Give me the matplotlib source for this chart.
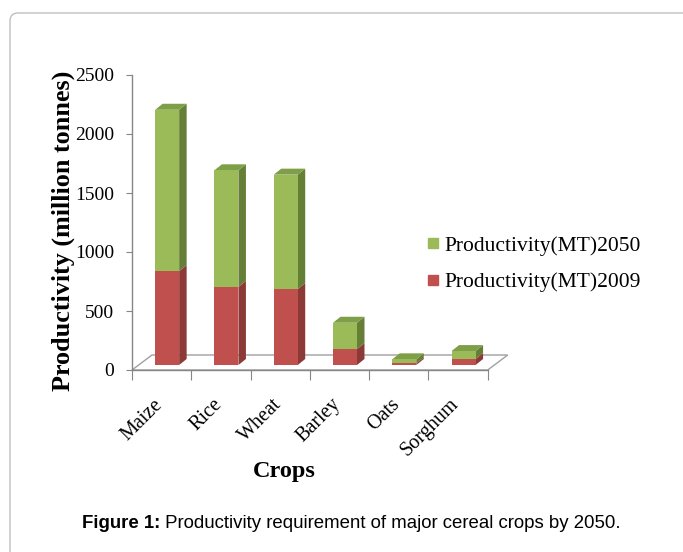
import matplotlib
matplotlib.use("Agg")
import matplotlib.pyplot as plt
import numpy as np
from matplotlib.patches import Polygon, FancyBboxPatch
from matplotlib.lines import Line2D
from matplotlib.transforms import IdentityTransform, ScaledTranslation

crops = ["Maize", "Rice", "Wheat", "Barley", "Oats", "Sorghum"]
prod_2009 = [795, 662, 643, 135, 14, 51]
prod_2050 = [1368, 988, 970, 223, 34, 67]
series_labels = ["Productivity(MT)2050", "Productivity(MT)2009"]
y_ticks = [0, 500, 1000, 1500, 2000, 2500]

W, H = 683, 552
fig = plt.figure(figsize=(W / 100, H / 100), dpi=100)

# axes placement in pixels (top-origin)
ax_l, ax_r, ax_y0, ax_ytop = 132, 487.7, 370, 75
ax = fig.add_axes([ax_l / W, (H - ax_y0) / H, (ax_r - ax_l) / W, (ax_y0 - ax_ytop) / H])
n = len(crops)
ax.set_xlim(-0.5, n - 0.5)
ax.set_ylim(0, 2500)

px_per_cat = (ax_r - ax_l) / n
px_per_val = (ax_y0 - ax_ytop) / 2500.0


def dxc(px):
    return px / px_per_cat


def dyv(px):
    return px / px_per_val


# floor
floor_dx, floor_dy = 20, 15
floor = Polygon([(-0.5, 0), (n - 0.5, 0), (n - 0.5 + dxc(floor_dx), dyv(floor_dy)),
                 (-0.5 + dxc(floor_dx), dyv(floor_dy))], closed=True,
                facecolor="white", edgecolor="#A0A0A0", linewidth=1.0, clip_on=False, zorder=1)
ax.add_patch(floor)

x = np.arange(n)
bw = 0.405
ox, oy = dxc(5.5), dyv(5)
ddx, ddy = dxc(7.5), dyv(6)

colors = {
    "red": ("#C0504D", "#8C3A37", "#A34440"),
    "green": ("#9BBB59", "#667F36", "#7F9E48"),
}

b09 = np.array(prod_2009, float)
b50 = np.array(prod_2050, float)

segments = [(np.zeros(n), b09, "red", False), (b09, b09 + b50, "green", True)]
for bottoms, tops, cname, top_face in segments:
    front, side, topc = colors[cname]
    ax.bar(x + ox, tops - bottoms, bottom=bottoms + oy, width=bw, color=front,
           edgecolor="none", zorder=3, clip_on=False)
    for i in range(n):
        xr = x[i] + ox + bw / 2
        xl = x[i] + ox - bw / 2
        b, t = bottoms[i] + oy, tops[i] + oy
        ax.add_patch(Polygon([(xr, b), (xr + ddx, b + ddy), (xr + ddx, t + ddy), (xr, t)],
                             closed=True, facecolor=side, edgecolor="none", zorder=2.5, clip_on=False))
        if top_face:
            ax.add_patch(Polygon([(xl, t), (xr, t), (xr + ddx, t + ddy), (xl + ddx, t + ddy)],
                                 closed=True, facecolor=topc, edgecolor="none", zorder=2.5, clip_on=False))

# spines / ticks
for s in ["top", "right"]:
    ax.spines[s].set_visible(False)
for s in ["left", "bottom"]:
    ax.spines[s].set_color("#868686")
    ax.spines[s].set_linewidth(1.0)
ax.set_yticks(y_ticks)
ax.set_yticklabels([str(v) for v in y_ticks], fontfamily="Liberation Serif", fontsize=14)
ax.tick_params(axis="y", length=4, color="#868686", pad=9)
ax.set_xticks(np.arange(-0.5, n, 1.0))
ax.set_xticklabels([])
ax.tick_params(axis="x", which="major", length=7, color="#868686", direction="out")
ax.set_xticks(x, minor=True)
ax.set_xticklabels(crops, minor=True, rotation=45, ha="right", va="top",
                   fontfamily="Liberation Serif", fontsize=14.5)
ax.tick_params(axis="x", which="minor", length=0, pad=18)
shift = ScaledTranslation(5 / 100, 0, fig.dpi_scale_trans)
for lbl in ax.get_xticklabels(minor=True):
    lbl.set_transform(lbl.get_transform() + shift)
ax.patch.set_visible(False)

# axis titles
fig.text(63 / W, 1 - 231 / H, "Productivity (million tonnes)", rotation=90, ha="center", va="center",
         fontfamily="Liberation Serif", fontweight="bold", fontsize=18.8)
fig.text(284 / W, 1 - 472 / H, "Crops", ha="center", va="center",
         fontfamily="Liberation Serif", fontweight="bold", fontsize=17.5)

# legend
handles = [Line2D([], [], marker="s", linestyle="none", color=colors["green"][0], markersize=7),
           Line2D([], [], marker="s", linestyle="none", color=colors["red"][0], markersize=7)]
fig.legend(handles, series_labels, loc="center left", bbox_to_anchor=(407 / W, 1 - 264 / H),
           frameon=False, handlelength=0.6, handletextpad=0.25, labelspacing=0.78,
           prop={"family": "Liberation Serif", "size": 15.5})

# caption
t1 = fig.text(82 / W, 1 - 523 / H, "Figure 1:", ha="left", va="center",
              fontfamily="Liberation Sans", fontweight="bold", fontsize=13.4)
r = fig.canvas.get_renderer()
bb = t1.get_window_extent(renderer=r)
fig.text(bb.x1 / W, 1 - 523 / H, " Productivity requirement of major cereal crops by 2050.",
         ha="left", va="center", fontfamily="Liberation Sans", fontsize=13.4)

# outer rounded border
border = FancyBboxPatch((10, -20), W + 20, H - 13 + 20, boxstyle="round,pad=0,rounding_size=8",
                        transform=IdentityTransform(), facecolor="none", edgecolor="#BFBFBF",
                        linewidth=1.0)
fig.patches.append(border)

fig.savefig("out.png", dpi=100)
